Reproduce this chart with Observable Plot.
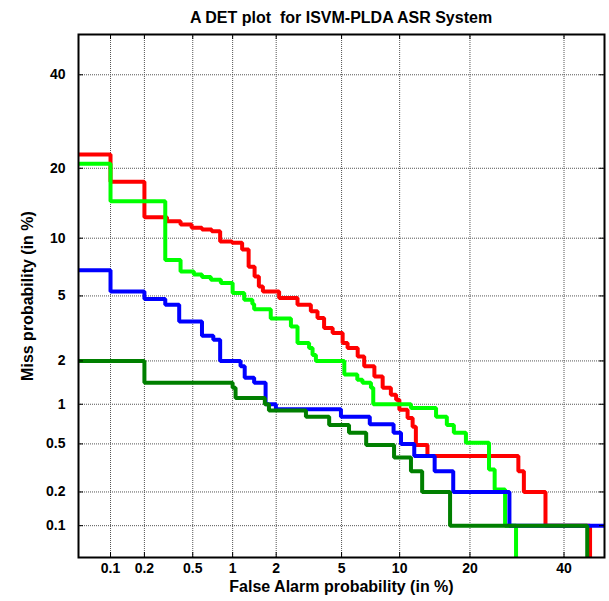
<!DOCTYPE html>
<html>
<head>
<meta charset="utf-8">
<script src="https://cdn.jsdelivr.net/npm/d3@7"></script>
<script src="https://cdn.jsdelivr.net/npm/@observablehq/plot@0.6"></script>
<style>
  html, body { margin: 0; padding: 0; background: #fff; }
  #title { width: 609px; height: 28px; padding-top: 4px; box-sizing: content-box;
    font: bold 16px "Liberation Sans", Arial, sans-serif; line-height: 28px;
    white-space: pre; }
  #title span { display: block; margin-left: 78px; width: 526px; text-align: center; }
</style>
</head>
<body>
<div id="title"><span>A DET plot  for ISVM-PLDA ASR System</span></div>
<div id="chart"></div>
<script>
// Tick values (percent)
const xTicks = [0.1, 0.2, 0.5, 1, 2, 5, 10, 20, 40];
const yTicks = [0.1, 0.2, 0.5, 1, 2, 5, 10, 20, 40];

// Red system: false alarm (%) where each miss level starts, miss (%)
const redFA = [0.03, 0.1, 0.2, 0.31, 0.40, 0.49, 0.59, 0.70, 0.81, 0.99, 1.17, 1.30, 1.43, 1.53, 1.63, 2.09, 2.74, 3.31, 3.63, 3.97, 4.45, 5.07, 5.4, 6.13, 6.64, 7.5, 8.26, 9.07, 9.62, 9.97, 10.9, 11.5, 11.9, 13.4, 29.5, 30.7, 35.6, 46.4];
const redMiss = [22.5, 17.7, 12.5, 12.0, 11.6, 11.2, 11.0, 10.8, 9.65, 9.5, 8.8, 7.2, 6.4, 5.65, 5.3, 4.87, 4.46, 4.08, 3.72, 3.24, 3.02, 2.61, 2.43, 2.14, 1.84, 1.57, 1.31, 1.17, 1.08, 0.91, 0.79, 0.68, 0.49, 0.40, 0.30, 0.20, 0.10, 0.0005];

// Light green system
const greenFA = [0.03, 0.1, 0.30, 0.40, 0.51, 0.59, 0.69, 0.82, 1.0, 1.21, 1.38, 1.42, 1.84, 2.49, 2.74, 3.23, 3.39, 3.55, 5.18, 6.1, 6.5, 7.2, 7.4, 11.3, 14.6, 16.2, 17.3, 19.3, 23.5, 24.6, 26.7, 29.0];
const greenMiss = [20.8, 14.7, 7.8, 6.8, 6.55, 6.35, 6.15, 5.9, 5.2, 4.76, 4.5, 4.2, 3.7, 3.31, 2.61, 2.43, 2.19, 2.0, 1.62, 1.49, 1.42, 1.31, 1.0, 0.94, 0.81, 0.70, 0.61, 0.51, 0.31, 0.21, 0.10, 0.0005];

// Blue system
const blueFA = [0.03, 0.1, 0.2, 0.30, 0.39, 0.59, 0.72, 0.81, 1.14, 1.22, 1.42, 1.70, 1.99, 4.96, 7.1, 9.35, 10.15, 11.7, 14.4, 17.2, 27.6, 60];
const blueMiss = [6.9, 5.3, 4.8, 4.46, 3.55, 2.9, 2.74, 2.0, 1.84, 1.54, 1.42, 1.0, 0.92, 0.81, 0.71, 0.61, 0.50, 0.40, 0.30, 0.20, 0.10, 0.10];

// Dark green system
const dgreenFA = [0.03, 0.2, 1.0, 1.05, 1.68, 1.79, 3.09, 4.25, 5.5, 6.8, 9.4, 11.3, 12.7, 16.7, 45.7];
const dgreenMiss = [2.0, 1.42, 1.31, 1.11, 1.0, 0.9, 0.81, 0.70, 0.61, 0.49, 0.39, 0.30, 0.20, 0.10, 0.0005];

// Inverse normal CDF (Acklam)
function probit(p) {
  const a = [-3.969683028665376e+01, 2.209460984245205e+02, -2.759285104469687e+02, 1.383577518672690e+02, -3.066479806614716e+01, 2.506628277459239e+00];
  const b = [-5.447609879822406e+01, 1.615858368580409e+02, -1.556989798598866e+02, 6.680131188771972e+01, -1.328068155288572e+01];
  const c = [-7.784894002430293e-03, -3.223964580411365e-01, -2.400758277161838e+00, -2.549732539343734e+00, 4.374664141464968e+00, 2.938163982698783e+00];
  const d = [7.784695709041462e-03, 3.224671290700398e-01, 2.445134137142996e+00, 3.754408661907416e+00];
  const plow = 0.02425, phigh = 1 - plow;
  let q, r;
  if (p < plow) {
    q = Math.sqrt(-2 * Math.log(p));
    return (((((c[0]*q+c[1])*q+c[2])*q+c[3])*q+c[4])*q+c[5]) / ((((d[0]*q+d[1])*q+d[2])*q+d[3])*q+1);
  }
  if (p <= phigh) {
    q = p - 0.5; r = q * q;
    return (((((a[0]*r+a[1])*r+a[2])*r+a[3])*r+a[4])*r+a[5])*q / (((((b[0]*r+b[1])*r+b[2])*r+b[3])*r+b[4])*r+1);
  }
  q = Math.sqrt(-2 * Math.log(1 - p));
  return -(((((c[0]*q+c[1])*q+c[2])*q+c[3])*q+c[4])*q+c[5]) / ((((d[0]*q+d[1])*q+d[2])*q+d[3])*q+1);
}
const P = v => probit(v / 100);

const rows = (fa, miss) => fa.map((f, i) => ({x: P(f), y: P(miss[i])}));

const W = 609, H = 569;
const mL = 78, mR = 5, mT = 2, mB = 44;
const innerW = W - mL - mR, innerH = H - mT - mB;
const tickLen = 5;

const lineOpts = (color) => ({x: "x", y: "y", curve: "step-after", stroke: color, strokeWidth: 4,
  strokeLinejoin: "miter", strokeLinecap: "butt", clip: true});

const chart = Plot.plot({
  width: W, height: H,
  marginLeft: mL, marginRight: mR, marginTop: mT, marginBottom: mB,
  style: {fontFamily: "'Liberation Sans', Arial, sans-serif", fontSize: "14px", fontWeight: "bold", color: "#000", background: "#fff"},
  x: {type: "linear", domain: [P(0.05), P(50)], axis: null},
  y: {type: "linear", domain: [P(0.05), P(50)], axis: null},
  marks: [
    Plot.ruleX(xTicks, {x: d => P(d), stroke: "#555", strokeWidth: 1, strokeDasharray: "1,1"}),
    Plot.ruleY(yTicks, {y: d => P(d), stroke: "#555", strokeWidth: 1, strokeDasharray: "1,1"}),
    Plot.line(rows(redFA, redMiss), lineOpts("#ff0000")),
    Plot.line(rows(greenFA, greenMiss), lineOpts("#00ff00")),
    Plot.line(rows(blueFA, blueMiss), lineOpts("#0000ff")),
    Plot.line(rows(dgreenFA, dgreenMiss), lineOpts("#007f00")),
    // inward tick marks
    Plot.ruleX(xTicks, {x: d => P(d), stroke: "#000", strokeWidth: 1, insetTop: innerH - tickLen}),
    Plot.ruleX(xTicks, {x: d => P(d), stroke: "#000", strokeWidth: 1, insetBottom: innerH - tickLen}),
    Plot.ruleY(yTicks, {y: d => P(d), stroke: "#000", strokeWidth: 1, insetRight: innerW - tickLen}),
    Plot.ruleY(yTicks, {y: d => P(d), stroke: "#000", strokeWidth: 1, insetLeft: innerW - tickLen}),
    Plot.frame({stroke: "#000", strokeWidth: 2}),
    // tick labels
    Plot.text(xTicks, {x: d => P(d), frameAnchor: "bottom", dy: 15, text: d => String(d), fill: "#000", fontSize: 14, fontWeight: "bold"}),
    Plot.text(yTicks, {y: d => P(d), frameAnchor: "left", dx: -13, textAnchor: "end", text: d => String(d), fill: "#000", fontSize: 14, fontWeight: "bold"}),
    // axis titles
    Plot.text(["False Alarm probability (in %)"], {frameAnchor: "bottom", dy: 34, text: d => d, fill: "#000", fontSize: 16, fontWeight: "bold"}),
    Plot.text(["Miss probability (in %)"], {frameAnchor: "left", dx: -51, rotate: -90, textAnchor: "middle", text: d => d, fill: "#000", fontSize: 16, fontWeight: "bold"})
  ]
});
document.getElementById("chart").appendChild(chart);
</script>
</body>
</html>
